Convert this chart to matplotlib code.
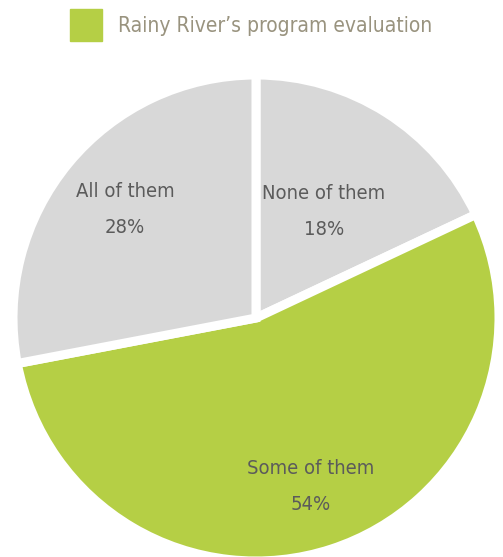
import matplotlib.pyplot as plt
from matplotlib.patches import Rectangle
import numpy as np

# 数据
categories = ['None of them', 'Some of them', 'All of them']
shares = [18, 54, 28]
colors = ['#d8d8d8', '#b5cf45', '#d8d8d8']
legend_label = 'Rainy River\u2019s program evaluation'

# 标签到圆心的距离 (半径比例)
label_dist = [0.52, 0.73, 0.70]

plt.rcParams['font.family'] = ['DejaVu Sans']
plt.rcParams['font.stretch'] = 'condensed'

fig = plt.figure(figsize=(5.03, 5.57), dpi=100)
W, H = 503, 557
cx, cy = 256, 557 - 318
half = 250
ax = fig.add_axes([(cx - half) / W, (cy - half) / H, 2 * half / W, 2 * half / H])

wedges, _ = ax.pie(shares, colors=colors, startangle=90, counterclock=False,
                   radius=1.0,
                   wedgeprops=dict(edgecolor='white', linewidth=6.5, joinstyle='miter'))
lim = half / 243
ax.set_xlim(-lim, lim)
ax.set_ylim(-lim, lim)
ax.set_aspect('equal')
ax.axis('off')

# 每块扇形中间放类别和百分比
for w, name, val, d in zip(wedges, categories, shares, label_dist):
    ang = np.deg2rad((w.theta1 + w.theta2) / 2)
    ax.text(d * np.cos(ang), d * np.sin(ang), f'{name}\n{val}%',
            ha='center', va='center', fontsize=14.5, color='#5b5b5b',
            linespacing=2.15)

# 图例
fig.patches.append(Rectangle((70 / W, 1 - 41 / H), 32 / W, 32 / H,
                             transform=fig.transFigure, color='#b5cf45'))
fig.text(118 / W, 1 - 26 / H, legend_label, ha='left', va='center',
         fontsize=15, color='#99937f')

fig.savefig('out.png', dpi=100)
